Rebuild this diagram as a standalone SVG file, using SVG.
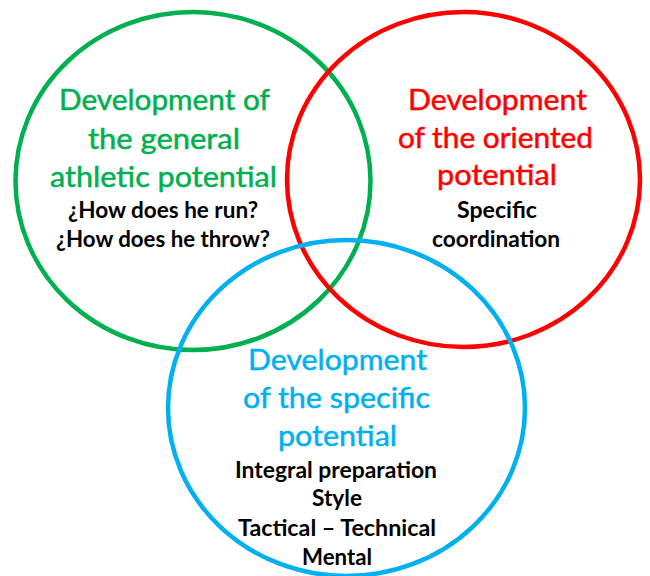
<svg xmlns="http://www.w3.org/2000/svg" width="650" height="576" viewBox="0 0 650 576">
<style>
.c{fill:none;stroke-width:4.5}
.t{font-family:Lato,"Open Sans","Noto Sans",sans-serif;font-size:29px;text-anchor:middle;stroke-width:0.5}
.s{font-family:Lato,"Open Sans","Noto Sans",sans-serif;font-size:23px;font-weight:bold;text-anchor:middle;fill:#000}
.g{fill:#00B050;stroke:#00B050}
.r{fill:#FF0000;stroke:#FF0000}
.b{fill:#00B0F0;stroke:#00B0F0}
</style>
<rect width="650" height="576" fill="#fff"/>
<g id="general">
<ellipse class="c" cx="193" cy="181" rx="177.5" ry="169" stroke="#00B050"/>
<text class="t g" x="164.5" y="110" textLength="211" lengthAdjust="spacingAndGlyphs">Development of</text>
<text class="t g" x="164" y="149" textLength="152" lengthAdjust="spacingAndGlyphs">the general</text>
<text class="t g" x="163.5" y="187" textLength="227" lengthAdjust="spacingAndGlyphs">athletic potential</text>
<text class="s" x="163" y="218" textLength="190" lengthAdjust="spacingAndGlyphs">¿How does he run?</text>
<text class="s" x="163" y="247" textLength="214" lengthAdjust="spacingAndGlyphs">¿How does he throw?</text>
</g>
<g id="oriented">
<ellipse class="c" cx="463.5" cy="179.5" rx="176.5" ry="167.5" stroke="#FF0000"/>
<text class="t r" x="497.5" y="110" textLength="179" lengthAdjust="spacingAndGlyphs">Development</text>
<text class="t r" x="495.5" y="148" textLength="195" lengthAdjust="spacingAndGlyphs">of the oriented</text>
<text class="t r" x="497" y="185" textLength="120" lengthAdjust="spacingAndGlyphs">potential</text>
<text class="s" x="497" y="218" textLength="80" lengthAdjust="spacingAndGlyphs">Specific</text>
<text class="s" x="496" y="247" textLength="128" lengthAdjust="spacingAndGlyphs">coordination</text>
</g>
<g id="specific">
<ellipse class="c" cx="346.5" cy="408" rx="178.5" ry="168" stroke="#00B0F0"/>
<text class="t b" x="337.5" y="370" textLength="179" lengthAdjust="spacingAndGlyphs">Development</text>
<text class="t b" x="336.5" y="408" textLength="187" lengthAdjust="spacingAndGlyphs">of the specific</text>
<text class="t b" x="337.5" y="446" textLength="119" lengthAdjust="spacingAndGlyphs">potential</text>
<text class="s" x="336" y="478" textLength="202" lengthAdjust="spacingAndGlyphs">Integral preparation</text>
<text class="s" x="337" y="506" textLength="50" lengthAdjust="spacingAndGlyphs">Style</text>
<text class="s" x="337" y="536" textLength="198" lengthAdjust="spacingAndGlyphs">Tactical – Technical</text>
<text class="s" x="337" y="565" textLength="70" lengthAdjust="spacingAndGlyphs">Mental</text>
</g>
<g id="connectors"/>
</svg>
